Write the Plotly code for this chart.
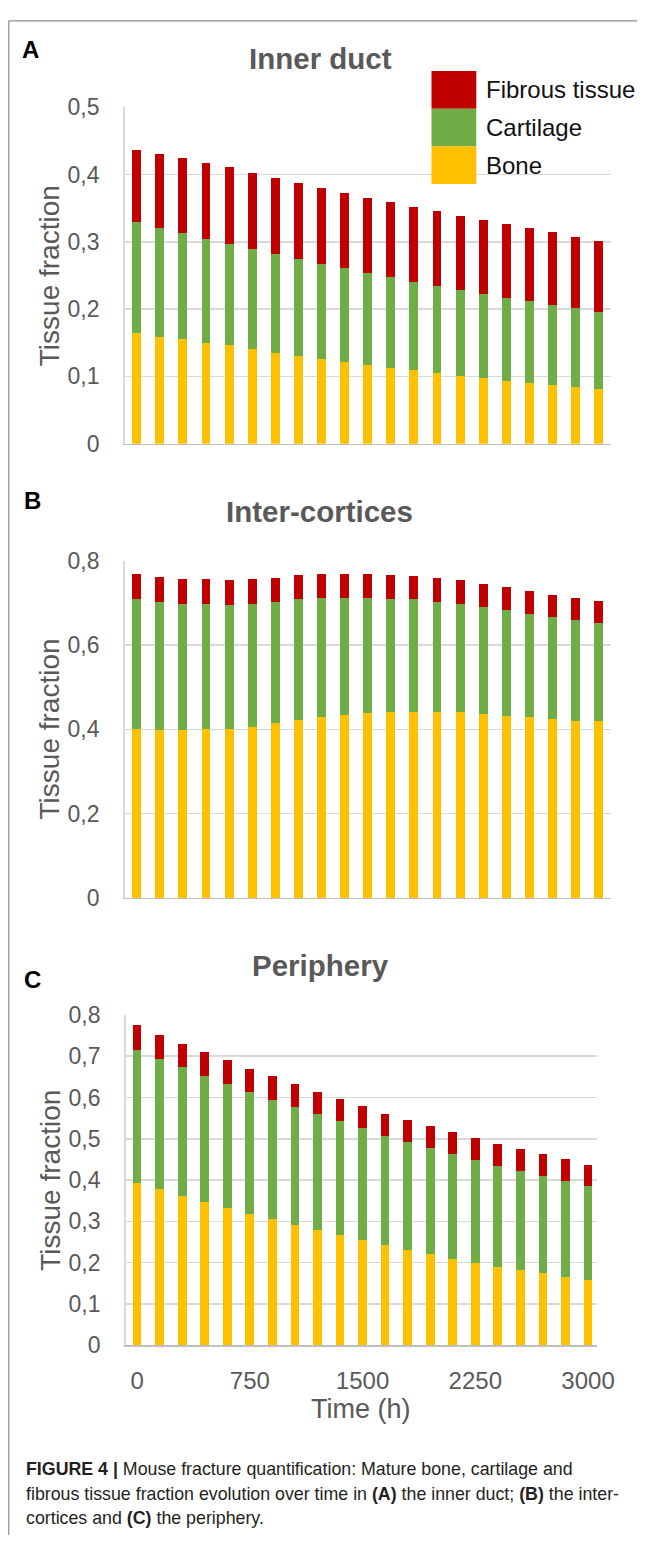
import plotly.graph_objects as go

W, H = 654, 1548

time_h = [0, 150, 300, 450, 600, 750, 900, 1050, 1200, 1350, 1500,
          1650, 1800, 1950, 2100, 2250, 2400, 2550, 2700, 2850, 3000]

# Panel A - Inner duct
a_bone = [0.165, 0.159, 0.155, 0.150, 0.146, 0.140, 0.135, 0.130, 0.126, 0.121, 0.117,
          0.112, 0.109, 0.105, 0.101, 0.097, 0.093, 0.090, 0.087, 0.084, 0.081]
a_cart = [0.164, 0.161, 0.158, 0.155, 0.151, 0.150, 0.147, 0.145, 0.141, 0.140, 0.137,
          0.136, 0.132, 0.130, 0.127, 0.126, 0.124, 0.122, 0.119, 0.117, 0.115]
a_fib = [0.108, 0.110, 0.112, 0.113, 0.114, 0.113, 0.113, 0.113, 0.113, 0.112, 0.112,
         0.111, 0.111, 0.111, 0.111, 0.110, 0.109, 0.108, 0.108, 0.106, 0.106]

# Panel B - Inter-cortices
b_bone = [0.400, 0.398, 0.398, 0.400, 0.401, 0.406, 0.414, 0.423, 0.430, 0.435, 0.438,
          0.441, 0.441, 0.441, 0.440, 0.436, 0.432, 0.428, 0.424, 0.420, 0.419]
b_cart = [0.308, 0.303, 0.300, 0.297, 0.294, 0.291, 0.287, 0.285, 0.281, 0.277, 0.274,
          0.267, 0.267, 0.262, 0.257, 0.254, 0.251, 0.246, 0.242, 0.239, 0.233]
b_fib = [0.060, 0.061, 0.059, 0.059, 0.059, 0.059, 0.059, 0.057, 0.057, 0.056, 0.056,
         0.059, 0.055, 0.056, 0.056, 0.055, 0.054, 0.055, 0.053, 0.052, 0.053]

# Panel C - Periphery
c_bone = [0.394, 0.378, 0.361, 0.348, 0.333, 0.318, 0.305, 0.291, 0.279, 0.267, 0.254,
          0.242, 0.231, 0.221, 0.210, 0.200, 0.190, 0.181, 0.174, 0.166, 0.159]
c_cart = [0.321, 0.315, 0.312, 0.304, 0.300, 0.295, 0.289, 0.285, 0.281, 0.275, 0.271,
          0.265, 0.262, 0.256, 0.253, 0.248, 0.245, 0.240, 0.235, 0.232, 0.226]
c_fib = [0.060, 0.058, 0.056, 0.058, 0.057, 0.056, 0.057, 0.056, 0.053, 0.054, 0.054,
         0.054, 0.053, 0.054, 0.054, 0.053, 0.052, 0.054, 0.054, 0.052, 0.052]

series_names = ["Bone", "Cartilage", "Fibrous tissue"]
colors = {"Bone": "#FFC000", "Cartilage": "#70AD47", "Fibrous tissue": "#C00000"}

panel_titles = ["Inner duct", "Inter-cortices", "Periphery"]
panel_letters = ["A", "B", "C"]

a_yticks = [0, 0.1, 0.2, 0.3, 0.4, 0.5]
a_ytext = ["0", "0,1", "0,2", "0,3", "0,4", "0,5"]
b_yticks = [0, 0.2, 0.4, 0.6, 0.8]
b_ytext = ["0", "0,2", "0,4", "0,6", "0,8"]
c_yticks = [0, 0.1, 0.2, 0.3, 0.4, 0.5, 0.6, 0.7, 0.8]
c_ytext = ["0", "0,1", "0,2", "0,3", "0,4", "0,5", "0,6", "0,7", "0,8"]
x_ticks = [0, 750, 1500, 2250, 3000]
x_ticktext = ["0", "750", "1500", "2250", "3000"]

FONT = "Liberation Sans, Arial, sans-serif"
GRAY = "#595959"
GRID = "#D9D9D9"


def px_x(p):
    return p / W


def px_y(p):
    return 1 - p / H


fig = go.Figure()

panels = [
    ("x", "y", a_bone, a_cart, a_fib),
    ("x2", "y2", b_bone, b_cart, b_fib),
    ("x3", "y3", c_bone, c_cart, c_fib),
]
for xa, ya, bone, cart, fib in panels:
    for name, vals in zip(series_names, [bone, cart, fib]):
        fig.add_trace(go.Bar(x=time_h, y=vals, name=name, xaxis=xa, yaxis=ya,
                             marker=dict(color=colors[name], line=dict(width=0)),
                             width=58, showlegend=False))

common_y = dict(showgrid=True, gridcolor=GRID, gridwidth=1.5, zeroline=False,
                showline=True, linecolor=GRID, linewidth=1.5,
                ticks="outside", ticklen=19, tickcolor="rgba(0,0,0,0)",
                tickfont=dict(family=FONT, size=23, color=GRAY), fixedrange=True)
common_x = dict(showgrid=False, zeroline=False, showline=True, linecolor="#BFBFBF",
                linewidth=1.5, fixedrange=True)

fig.update_layout(
    width=W, height=H,
    margin=dict(l=0, r=0, t=0, b=0),
    paper_bgcolor="white", plot_bgcolor="white",
    barmode="stack", showlegend=False,
    font=dict(family=FONT),
    xaxis=dict(domain=[px_x(128), px_x(627)], range=[-78, 3078], anchor="y",
               showticklabels=False, **common_x),
    yaxis=dict(domain=[px_y(438), px_y(96)], range=[0, 0.5], anchor="x",
               tickvals=a_yticks, ticktext=a_ytext, **common_y),
    xaxis2=dict(domain=[px_x(128), px_x(627)], range=[-78, 3078], anchor="y2",
                showticklabels=False, **common_x),
    yaxis2=dict(domain=[px_y(900), px_y(557)], range=[0, 0.8], anchor="x2",
                tickvals=b_yticks, ticktext=b_ytext, **common_y),
    xaxis3=dict(domain=[px_x(129), px_x(613)], range=[-76, 3060], anchor="y3",
                tickvals=x_ticks, ticktext=x_ticktext, ticks="outside", ticklen=13,
                tickcolor="rgba(0,0,0,0)",
                tickfont=dict(family=FONT, size=24, color=GRAY), **common_x),
    yaxis3=dict(domain=[px_y(1355), px_y(1019)], range=[0, 0.8], anchor="x3",
                tickvals=c_yticks, ticktext=c_ytext, **common_y),
)

ann = []
letter_pos = [(31, 37), (33, 496), (33, 983)]
title_pos = [(329, 46), (328, 507), (329, 969)]
ytitle_pos = [(51, 267), (51, 728), (51, 1187)]
for i in range(3):
    lx, ly = letter_pos[i]
    ann.append(dict(x=px_x(lx), y=px_y(ly), xref="paper", yref="paper", showarrow=False,
                    text="<b>%s</b>" % panel_letters[i], xanchor="center", yanchor="middle",
                    font=dict(family=FONT, size=24, color="#000000")))
    tx, ty = title_pos[i]
    ann.append(dict(x=px_x(tx), y=px_y(ty), xref="paper", yref="paper", showarrow=False,
                    text="<b>%s</b>" % panel_titles[i], xanchor="center", yanchor="middle",
                    font=dict(family=FONT, size=29.5, color=GRAY)))
    yx, yy = ytitle_pos[i]
    ann.append(dict(x=px_x(yx), y=px_y(yy), xref="paper", yref="paper", showarrow=False,
                    text="Tissue fraction", textangle=-90, xanchor="center", yanchor="middle",
                    font=dict(family=FONT, size=28, color=GRAY)))

ann.append(dict(x=px_x(371), y=px_y(1420), xref="paper", yref="paper", showarrow=False,
                text="Time (h)", xanchor="center", yanchor="middle",
                font=dict(family=FONT, size=27, color=GRAY)))

shapes = []
legend_items = ["Fibrous tissue", "Cartilage", "Bone"]
sw_top = 59
sw_h = 38.3
for k, name in enumerate(legend_items):
    y0 = sw_top + k * sw_h
    shapes.append(dict(type="rect", xref="paper", yref="paper",
                       x0=px_x(443), x1=px_x(489), y0=px_y(y0 + sw_h), y1=px_y(y0),
                       fillcolor=colors[name], line=dict(width=0), layer="above"))
    ann.append(dict(x=px_x(497), y=px_y(y0 + sw_h / 2), xref="paper", yref="paper",
                    showarrow=False, text=name, xanchor="left", yanchor="middle",
                    font=dict(family=FONT, size=24, color="#111111")))

shapes.append(dict(type="line", xref="paper", yref="paper", x0=px_x(9), x1=px_x(9),
                   y0=0, y1=px_y(8), line=dict(color="#8C8C8C", width=1.2)))
shapes.append(dict(type="line", xref="paper", yref="paper", x0=px_x(9), x1=1,
                   y0=px_y(8), y1=px_y(8), line=dict(color="#8C8C8C", width=1.2)))

caption_lines = [
    "<b>FIGURE 4 |</b> Mouse fracture quantification: Mature bone, cartilage and",
    "fibrous tissue fraction evolution over time in <b>(A)</b> the inner duct; <b>(B)</b> the inter-",
    "cortices and <b>(C)</b> the periphery.",
]
caption_y = [1481, 1506, 1531]
for line, cy in zip(caption_lines, caption_y):
    ann.append(dict(x=px_x(25), y=px_y(cy), xref="paper", yref="paper", showarrow=False,
                    text=line, xanchor="left", yanchor="middle", align="left",
                    font=dict(family=FONT, size=17.8, color="#231F20")))

fig.update_layout(annotations=ann, shapes=shapes)

fig.write_html(
    "out.html",
    config={"displayModeBar": False, "staticPlot": True},
    post_script=("document.documentElement.style.margin='0px';"
                 "document.documentElement.style.overflow='hidden';"
                 "document.body.style.margin='0px';"
                 "document.body.style.overflow='hidden';"),
)
